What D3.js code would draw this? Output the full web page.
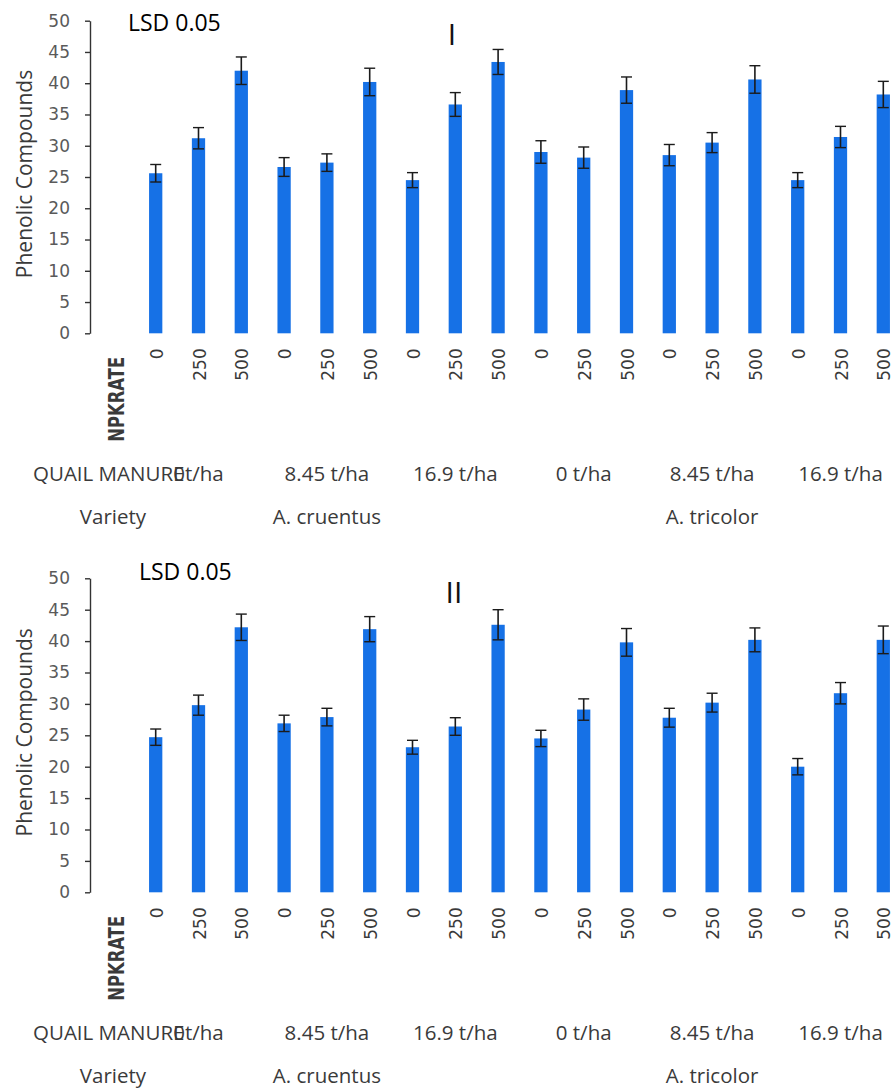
<!DOCTYPE html>
<html>
<head>
<meta charset="utf-8">
<script src="https://cdn.jsdelivr.net/npm/d3@7"></script>
<style>
  html, body { margin: 0; padding: 0; background: #ffffff; }
  svg { display: block; }
</style>
</head>
<body>
<svg id="chart" width="896" height="1091"></svg>
<script>
// ---------------- DATA ----------------
const varieties = ["A. cruentus", "A. tricolor"];
const manureLabels = ["0t/ha", "8.45 t/ha", "16.9 t/ha", "0 t/ha", "8.45 t/ha", "16.9 t/ha"];
const npkRates = ["0", "250", "500"];
const yTicks = [0, 5, 10, 15, 20, 25, 30, 35, 40, 45, 50];
const panelNames = ["I", "II"];

// Season I (top panel) phenolic compounds and error bars
const valuesI = [25.6, 31.2, 42.0, 26.6, 27.3, 40.2, 24.5, 36.6, 43.4,
                 29.0, 28.1, 38.9, 28.5, 30.5, 40.6, 24.5, 31.4, 38.2];
const errorsI = [1.4, 1.7, 2.2, 1.5, 1.4, 2.2, 1.2, 1.9, 2.0,
                 1.8, 1.7, 2.1, 1.7, 1.6, 2.2, 1.2, 1.7, 2.1];
// Season II (bottom panel)
const valuesII = [24.7, 29.8, 42.2, 26.9, 27.9, 41.9, 23.1, 26.4, 42.6,
                  24.5, 29.1, 39.8, 27.8, 30.2, 40.2, 20.0, 31.7, 40.2];
const errorsII = [1.3, 1.6, 2.1, 1.3, 1.4, 2.0, 1.1, 1.4, 2.4,
                  1.3, 1.7, 2.2, 1.5, 1.5, 1.9, 1.3, 1.7, 2.2];

// categories: variety x manure x npk (18 bars)
const categories = [];
varieties.forEach((v, vi) => {
  [0, 1, 2].forEach(mi => {
    npkRates.forEach(n => {
      categories.push({ variety: v, manure: manureLabels[vi * 3 + mi], npk: n });
    });
  });
});
const keys = categories.map((c, i) => i);

// ---------------- LAYOUT ----------------
const svg = d3.select("#chart");
const barColor = "#1671e6";
const textDark = "#3a3a3a";

const x = d3.scaleBand()
  .domain(keys)
  .range([134.3, 904.7])
  .paddingInner(0.69)
  .paddingOuter(0.345);

const panels = [
  { values: valuesI, errors: errorsI, yTop: 20.7, yZero: 333.3,
    lsdX: 128, lsdY: 31, romanX: 452, romanY: 45 },
  { values: valuesII, errors: errorsII, yTop: 578.3, yZero: 892.3,
    lsdX: 139, lsdY: 580, romanX: 454, romanY: 603 }
];

panels.forEach((p, pi) => {
  const g = svg.append("g");
  const y = d3.scaleLinear().domain([0, 50]).range([p.yZero, p.yTop]);

  // y axis
  const axis = d3.axisLeft(y).tickValues(yTicks).tickSize(5).tickSizeOuter(0).tickPadding(15);
  const ag = g.append("g").attr("transform", "translate(90,0)").call(axis);
  ag.select(".domain").attr("stroke", "#333").attr("stroke-width", 1.4);
  ag.selectAll(".tick line").attr("stroke", "#333").attr("stroke-width", 1.4);
  ag.selectAll(".tick text")
    .attr("font-family", "DejaVu Sans, Verdana, sans-serif")
    .attr("font-size", 17)
    .attr("fill", "#5a5a5a");

  // y label
  g.append("text")
    .attr("transform", `translate(32,${(p.yZero + p.yTop) / 2 - 3}) rotate(-90)`)
    .attr("text-anchor", "middle")
    .attr("font-family", "Open Sans, sans-serif")
    .attr("font-size", 21)
    .attr("fill", textDark)
    .text("Phenolic  Compounds");

  // bars
  g.selectAll("rect.bar")
    .data(keys)
    .join("rect")
    .attr("class", "bar")
    .attr("x", d => x(d))
    .attr("width", x.bandwidth())
    .attr("y", d => y(p.values[d]))
    .attr("height", d => y(0) - y(p.values[d]))
    .attr("fill", barColor);

  // error bars
  const eg = g.append("g").attr("stroke", "#1b1b1b");
  const cx = d => x(d) + x.bandwidth() / 2;
  eg.selectAll("line.stem").data(keys).join("line")
    .attr("x1", cx).attr("x2", cx)
    .attr("y1", d => y(p.values[d] + p.errors[d]))
    .attr("y2", d => y(p.values[d] - p.errors[d]))
    .attr("stroke-width", 1.6);
  eg.selectAll("line.capT").data(keys).join("line")
    .attr("x1", d => cx(d) - 5.5).attr("x2", d => cx(d) + 5.5)
    .attr("y1", d => y(p.values[d] + p.errors[d]))
    .attr("y2", d => y(p.values[d] + p.errors[d]))
    .attr("stroke-width", 1.4);
  eg.selectAll("line.capB").data(keys).join("line")
    .attr("x1", d => cx(d) - 5.5).attr("x2", d => cx(d) + 5.5)
    .attr("y1", d => y(p.values[d] - p.errors[d]))
    .attr("y2", d => y(p.values[d] - p.errors[d]))
    .attr("stroke-width", 1.4);

  // NPK rate tick labels (rotated)
  g.selectAll("text.npk").data(keys).join("text")
    .attr("class", "npk")
    .attr("transform", d => `translate(${cx(d) + 1},${p.yZero + 15}) rotate(-90)`)
    .attr("text-anchor", "end")
    .attr("dy", "0.36em")
    .attr("font-family", "DejaVu Sans, Verdana, sans-serif")
    .attr("font-size", 17)
    .attr("fill", textDark)
    .text(d => categories[d].npk);

  g.append("text")
    .attr("transform", `translate(116,${p.yZero + 66}) rotate(-90)`)
    .attr("text-anchor", "middle")
    .attr("dy", "0.36em")
    .attr("font-family", "DejaVu Sans, Verdana, sans-serif")
    .attr("font-weight", "bold")
    .attr("font-size", 21)
    .attr("textLength", 85)
    .attr("lengthAdjust", "spacingAndGlyphs")
    .attr("fill", textDark)
    .text("NPKRATE");

  // quail manure row
  const rowFont = "Open Sans, sans-serif";
  g.append("text")
    .attr("x", 33).attr("y", p.yZero + 148)
    .attr("font-family", rowFont).attr("font-size", 20.5)
    .attr("fill", textDark)
    .text("QUAIL MANURE");
  g.selectAll("text.manure").data(manureLabels).join("text")
    .attr("class", "manure")
    .attr("x", (d, i) => cx(keys[i * 3 + 1]))
    .attr("y", p.yZero + 148)
    .attr("text-anchor", "middle")
    .attr("font-family", rowFont).attr("font-size", 20.5)
    .attr("fill", textDark)
    .text(d => d);

  // variety row
  g.append("text")
    .attr("x", 113).attr("y", p.yZero + 191)
    .attr("text-anchor", "middle")
    .attr("font-family", rowFont).attr("font-size", 20.5)
    .attr("fill", textDark)
    .text("Variety");
  g.selectAll("text.variety").data(varieties).join("text")
    .attr("class", "variety")
    .attr("x", (d, i) => cx(keys[i * 9 + 4]))
    .attr("y", p.yZero + 191)
    .attr("text-anchor", "middle")
    .attr("font-family", rowFont).attr("font-size", 20.5)
    .attr("fill", textDark)
    .text(d => d);

  // LSD label and panel numeral
  g.append("text")
    .attr("x", p.lsdX).attr("y", p.lsdY)
    .attr("font-family", rowFont).attr("font-size", 23)
    .attr("fill", "#000")
    .text("LSD 0.05");
  g.append("text")
    .attr("x", p.romanX).attr("y", p.romanY)
    .attr("text-anchor", "middle")
    .attr("font-family", rowFont).attr("font-size", 30)
    .attr("fill", "#111")
    .text(panelNames[pi]);
});
</script>
</body>
</html>
